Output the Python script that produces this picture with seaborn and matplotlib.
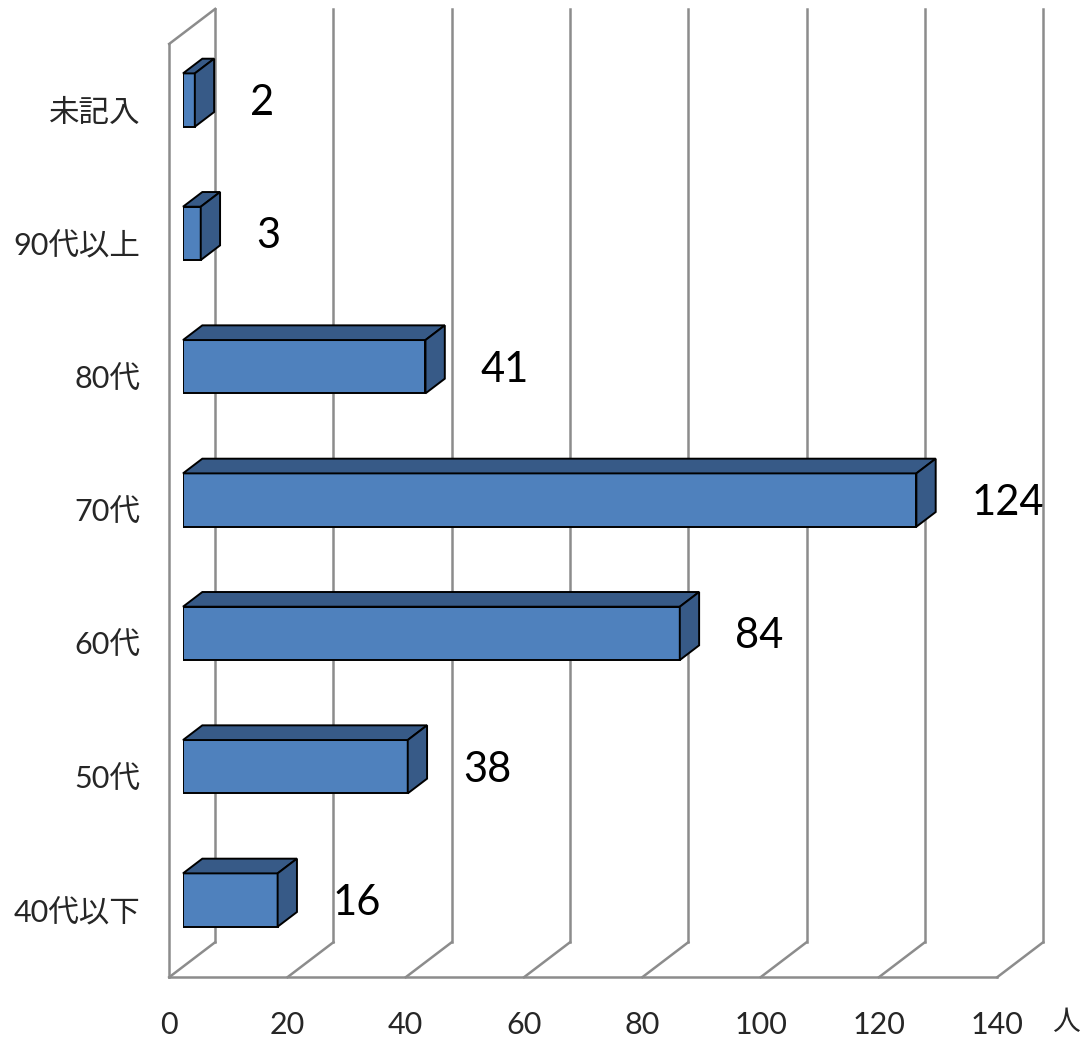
"""Age distribution chart drawn as a pseudo-3D horizontal bar chart."""
import matplotlib

matplotlib.use("Agg")
import matplotlib.pyplot as plt
import matplotlib.transforms as mtransforms
from matplotlib.patches import Polygon
import numpy as np
import pandas as pd
import seaborn as sns

# データ
categories = ["未記入", "90代以上", "80代", "70代", "60代", "50代", "40代以下"]
counts = [2, 3, 41, 124, 84, 38, 16]
x_ticks = [0, 20, 40, 60, 80, 100, 120, 140]
unit_label = "人"

FRONT = "#4F81BD"
SHADE = "#375A87"
GRID = "#8C8C8C"

# 奥行き方向 (表示座標 px, 右・上)
DEPTH_PX = np.array([46.0, 35.0])
FLOOR_FRONT, BAR_BACK, WALL_BACK = -0.3, 0.42, 0.7


def depth(ax, frac):
    """奥行き frac に対応するデータ座標のずれ."""
    p0 = ax.transData.transform((0, 0))
    p1 = ax.transData.inverted().transform(p0 + DEPTH_PX * frac)
    return p1[0], p1[1]


def px_shift(fig, frac):
    dx, dy = DEPTH_PX * frac / fig.dpi
    return mtransforms.ScaledTranslation(dx, dy, fig.dpi_scale_trans)


def plot_chart():
    df = pd.DataFrame({"category": categories, "count": counts})

    sns.set_theme(style="white")
    plt.rcParams["font.family"] = ["Lato", "Noto Sans CJK JP", "DejaVu Sans"]

    fig = plt.figure(figsize=(10.81, 10.42), dpi=100)
    ax = fig.add_axes([183 / 1081, 75.3 / 1042, 828 / 1081, 933.3 / 1042])

    sns.barplot(
        data=df, y="category", x="count", orient="h", color=FRONT,
        saturation=1, width=0.4, edgecolor="black", linewidth=1.4,
        ax=ax, zorder=3,
    )
    ax.set_xlim(0, 140)
    ax.set_ylim(len(categories) - 0.5, -0.5)
    for s in ax.spines.values():
        s.set_visible(False)
    ax.set_xlabel("")
    ax.set_ylabel("")

    y_floor, y_top = len(categories) - 0.5, -0.5
    fdx, fdy = depth(ax, FLOOR_FRONT)
    wdx, wdy = depth(ax, WALL_BACK)
    line_kw = dict(color=GRID, lw=1.8, zorder=1, solid_capstyle="projecting",
                   clip_on=False)

    # 奥の壁の目盛線と床
    for t in x_ticks:
        ax.plot([t + wdx, t + wdx], [y_floor + wdy, y_top + wdy], **line_kw)
        ax.plot([t + fdx, t + wdx], [y_floor + fdy, y_floor + wdy], **line_kw)
    ax.plot([fdx, 140 + fdx], [y_floor + fdy, y_floor + fdy], **line_kw)
    # 左側の壁
    ax.plot([fdx, fdx], [y_floor + fdy, y_top + fdy], **line_kw)
    ax.plot([fdx, wdx], [y_top + fdy, y_top + wdy], **line_kw)

    # 棒の上面と側面
    bdx, bdy = depth(ax, BAR_BACK)
    for bar in ax.patches:
        x0, y0 = bar.get_x(), bar.get_y()
        x1, y1 = x0 + bar.get_width(), y0 + bar.get_height()
        top = [(x0, y0), (x1, y0), (x1 + bdx, y0 + bdy), (x0 + bdx, y0 + bdy)]
        side = [(x1, y0), (x1, y1), (x1 + bdx, y1 + bdy), (x1 + bdx, y0 + bdy)]
        for pts in (top, side):
            ax.add_patch(Polygon(pts, closed=True, facecolor=SHADE,
                                 edgecolor="black", lw=1.4, zorder=3,
                                 clip_on=False))

    # 数値ラベル
    for i, v in enumerate(counts):
        ax.annotate(str(v), xy=(v, i), xytext=(55, -3),
                    textcoords="offset pixels", ha="left", va="center",
                    fontsize=30, color="black", zorder=5)

    # 目盛ラベル (手前の面に合わせる)
    ax.set_xticks(x_ticks)
    ax.set_xticklabels([str(t) for t in x_ticks])
    ax.tick_params(axis="x", length=0, pad=24, labelsize=22)
    ax.tick_params(axis="y", length=0, pad=21, labelsize=22)
    shift = px_shift(fig, FLOOR_FRONT)
    for lab in ax.get_xticklabels() + ax.get_yticklabels():
        lab.set_transform(lab.get_transform() + shift)

    fig.text(1066 / 1081, 1 - 1022 / 1042, unit_label, ha="center",
             va="center", fontsize=20)

    fig.savefig("out.png", dpi=100, facecolor="white")


def main():
    plot_chart()


if __name__ == "__main__":
    main()
